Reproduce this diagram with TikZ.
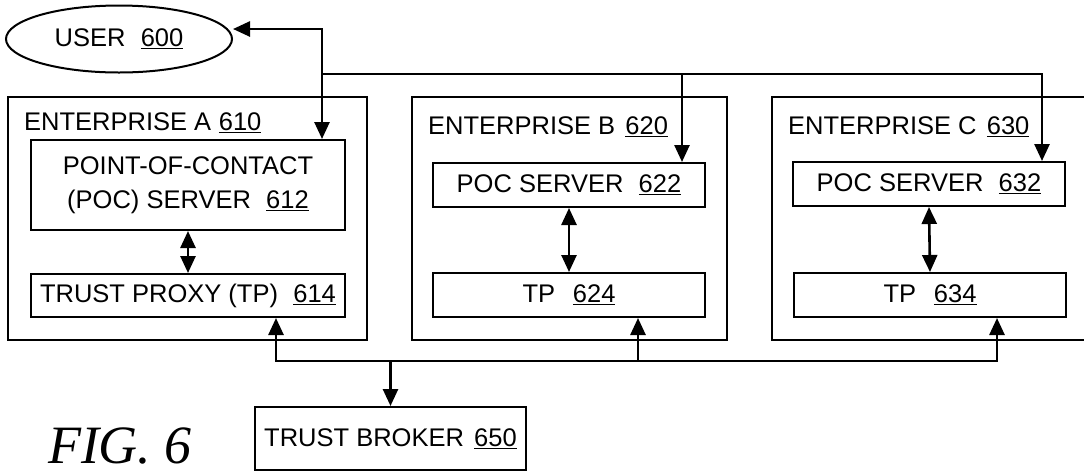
\documentclass[tikz,border=0pt]{standalone}
\usepackage{fontspec}
\setmainfont{Liberation Sans}
\newfontfamily\figfont{Liberation Serif}
\usetikzlibrary{arrows.meta,calc,shapes.geometric}
\tikzset{
  box/.style={draw, line width=2pt, inner sep=0pt, align=center,
    font=\fontsize{25.5}{34}\selectfont},
  encl/.style={draw, line width=2pt, inner sep=0pt},
  lbl/.style={anchor=west, inner sep=0pt, font=\fontsize{25.5}{30}\selectfont},
  conn/.style={line width=2.6pt, -{Triangle[length=17pt,width=15pt]}},
  dconn/.style={line width=2.6pt, {Triangle[length=17pt,width=15pt]}-{Triangle[length=17pt,width=15pt]}},
}
\newcommand{\num}[1]{\underline{#1}}
\begin{document}
\begin{tikzpicture}[x=1pt,y=-1pt]
\useasboundingbox (0,0) rectangle (1084,475);
% user
\node[draw, ellipse, line width=2pt, minimum width=226pt, minimum height=67pt, inner sep=0pt,
  font=\fontsize{25.5}{30}\selectfont] (user) at (119,39) {USER\hspace{0.6em}\num{600}};
% enterprises
\node[encl, minimum width=359pt, minimum height=243pt] (entA) at (187.5,218.5) {};
\node[encl, minimum width=315pt, minimum height=243pt] (entB) at (569.5,218.5) {};
\node[encl, minimum width=330pt, minimum height=243pt] (entC) at (937,218.5) {};
\node[lbl] (labA) at (24,123) {ENTERPRISE A\hspace{0.3em}\num{610}};
\node[lbl] (labB) at (428,127) {ENTERPRISE B\hspace{0.4em}\num{620}};
\node[lbl] (labC) at (788,127) {ENTERPRISE C\hspace{0.4em}\num{630}};
% inner boxes
\node[box, minimum width=314pt, minimum height=90pt] (poc612) at (188,185)
  {POINT-OF-CONTACT\\(POC) SERVER\hspace{0.6em}\num{612}};
\node[box, minimum width=314pt, minimum height=43pt] (tp614) at (188,295.5)
  {TRUST PROXY (TP)\hspace{0.6em}\num{614}};
\node[box, minimum width=272pt, minimum height=44pt] (poc622) at (569,185)
  {POC SERVER\hspace{0.6em}\num{622}};
\node[box, minimum width=272pt, minimum height=44pt] (tp624) at (569,295)
  {TP\hspace{0.7em}\num{624}};
\node[box, minimum width=272pt, minimum height=44pt] (poc632) at (929,184)
  {POC SERVER\hspace{0.6em}\num{632}};
\node[box, minimum width=272pt, minimum height=44pt] (tp634) at (930,295)
  {TP\hspace{0.7em}\num{634}};
\node[box, minimum width=271pt, minimum height=63pt] (broker) at (390.5,438.5)
  {TRUST BROKER\hspace{0.4em}\num{650}};
\node[inner sep=0pt, anchor=base, font=\figfont\itshape\fontsize{54}{60}\selectfont] (fig) at (120,463) {FIG. 6};
% helper coordinates
\coordinate (ux) at (322,0);
\coordinate (bt) at (0,74);
\coordinate (bx2) at (682,0);
\coordinate (bx3) at (1042,0);
\coordinate (bb) at (0,361);
\coordinate (a1) at (276,0);
\coordinate (a2) at (638,0);
\coordinate (a3) at (997,0);
\coordinate (a4) at (390.5,0);
% connectors
\draw[dconn] (poc612.north -| ux) |- ($(user.east)+(0,-10)$);
\draw[conn] (ux |- bt) -| (poc632.north -| bx3);
\draw[conn] (bx2 |- bt) -- (poc622.north -| bx2);
\draw[dconn] (poc612.south) -- (tp614.north);
\draw[dconn] (poc622.south) -- (tp624.north);
\draw[dconn] (poc632.south) -- (tp634.north);
\draw[dconn] (tp614.south -| a1) -- (a1 |- bb) -- (a3 |- bb) -- (tp634.south -| a3);
\draw[conn] (a2 |- bb) -- (tp624.south -| a2);
\draw[conn] (a4 |- bb) -- (broker.north);
\end{tikzpicture}
\end{document}
